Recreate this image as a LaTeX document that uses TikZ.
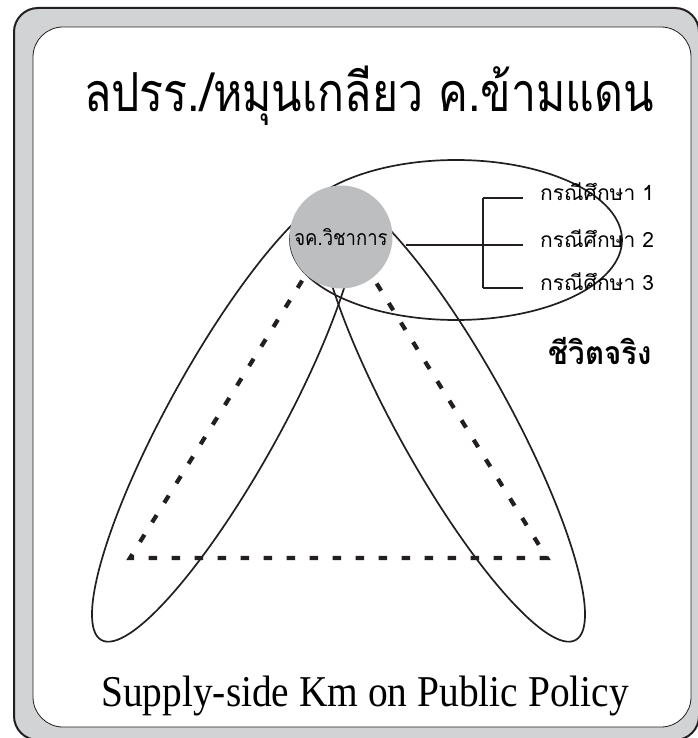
\documentclass[tikz,border=0pt]{standalone}
\usepackage{fontspec}
\setmainfont{Liberation Serif}
\newfontfamily\thaifont[Script=Thai]{Loma}
\usepackage{tikz}
\usetikzlibrary{positioning}
\definecolor{framegray}{RGB}{209, 211, 212}
\definecolor{hubgray}{RGB}{188, 190, 192}
\definecolor{inkblack}{RGB}{35, 31, 32}

\begin{document}
\begin{tikzpicture}[
			x=1pt, y=-1pt,
			frame/.style={draw=inkblack, line width=2pt, fill=framegray, rounded corners=24pt},
			panel/.style={draw=inkblack, line width=0.8pt, fill=white, rounded corners=30pt},
			loop/.style={draw=inkblack, line width=1.7pt},
			guide/.style={draw=inkblack, line width=4.2pt, dash pattern=on 8.5pt off 14.5pt},
			hub/.style={circle, fill=hubgray, minimum size=103pt, inner sep=0pt, font=\thaifont\fontsize{18.5}{20}\selectfont},
			bracket/.style={draw=inkblack, line width=2pt},
			caselabel/.style={inner sep=0pt, font=\thaifont\fontsize{21}{24}\selectfont}
		]

		\useasboundingbox (0,0) rectangle (697,738);
		\draw[frame] (14,8) rectangle (699,740);
		\draw[panel] (33,27) rectangle (691,727);

		\node (title) [anchor=base, inner sep=0pt, font=\thaifont\fontsize{48}{50}\selectfont] at (369,112) {\scalebox{0.93}[1.12]{ลปรร./หมุนเกลียว ค.ข้ามแดน}};

		% dashed triangle
		\coordinate (apex) at (338.5,222);
		\coordinate (leftfoot) at (130,558);
		\coordinate (rightfoot) at (547,558);
		\draw[guide] (apex) -- (leftfoot) -- (rightfoot) -- cycle;

		% the three loops
		\draw[loop, rotate around={61:(225,417)}] (225,417) ellipse [x radius=255, y radius=56];
		\draw[loop, rotate around={-61:(452,417)}] (452,417) ellipse [x radius=255, y radius=56];
		\draw[loop] (456,240) ellipse [x radius=166, y radius=80];

		\node (hub) [hub] at (341,237) {\scalebox{1}[1.15]{จค.วิชาการ}};

		% cases
		\coordinate (spine) at (483,245);
		\coordinate (tick1) at (523,198);
		\coordinate (tick2) at (523,245);
		\coordinate (tick3) at (523,288);
		\node (case1) [caselabel, right=17pt of tick1, anchor=mid west] {กรณีศึกษา 1};
		\node (case2) [caselabel, right=17pt of tick2, anchor=mid west] {กรณีศึกษา 2};
		\node (case3) [caselabel, right=17pt of tick3, anchor=mid west] {กรณีศึกษา 3};

		\draw[bracket, shorten <=13pt] (hub.east |- spine) -- (spine);
		\draw[bracket] (tick1 -| spine) -- (tick3 -| spine);
		\foreach \t in {tick1, tick2, tick3}
			\draw[bracket] (\t -| spine) -- (\t);

		\node (reallife) [anchor=base, inner sep=0pt, font=\thaifont\bfseries\fontsize{32}{34}\selectfont] at (600,364) {\scalebox{0.92}[1]{ชีวิตจริง}};

		\node (policy) [anchor=base, inner sep=0pt, font=\fontsize{40}{42}\selectfont] at (365,706) {\scalebox{0.985}[1.1]{Supply-side Km on Public Policy}};

	\end{tikzpicture}
\end{document}
